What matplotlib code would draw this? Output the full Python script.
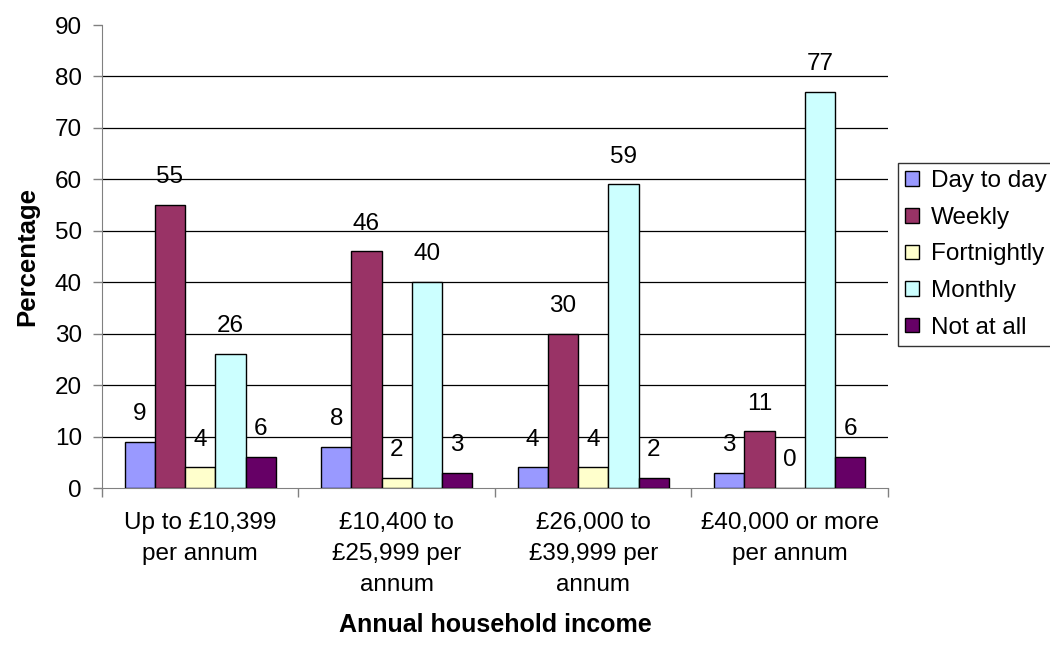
import numpy as np
import matplotlib
matplotlib.use("Agg")
import matplotlib.pyplot as plt

plt.rcParams["font.family"] = ["Liberation Sans", "DejaVu Sans"]

# -----------------------------
# DATA
# -----------------------------
categories = [
    "Up to £10,399\nper annum",
    "£10,400 to\n£25,999 per\nannum",
    "£26,000 to\n£39,999 per\nannum",
    "£40,000 or more\nper annum",
]
series_names = ["Day to day", "Weekly", "Fortnightly", "Monthly", "Not at all"]
day_to_day = [9, 8, 4, 3]
weekly = [55, 46, 30, 11]
fortnightly = [4, 2, 4, 0]
monthly = [26, 40, 59, 77]
not_at_all = [6, 3, 2, 6]
colors = ["#9999FF", "#993366", "#FFFFCC", "#CCFFFF", "#660066"]

series = [day_to_day, weekly, fortnightly, monthly, not_at_all]

# -----------------------------
# PLOT
# -----------------------------
fig = plt.figure(figsize=(10.5, 6.45), dpi=100)
ax = fig.add_axes([0.0971, 0.2434, 0.7486, 0.7178])

fs = 17.5
x = np.arange(len(categories))
width = 0.154
for i, (name, vals, col) in enumerate(zip(series_names, series, colors)):
    pos = x + (i - 2) * width
    bars = ax.bar(pos, vals, width, color=col, edgecolor="black",
                  linewidth=1.0, label=name, zorder=3)
    for b, v in zip(bars, vals):
        ax.annotate(str(v), (b.get_x() + b.get_width() / 2, v),
                    xytext=(0, 20), textcoords="offset points",
                    ha="center", va="center", fontsize=fs)

ax.set_xlim(-0.5, len(categories) - 0.5)
ax.set_ylim(0, 90)
ax.set_yticks(range(0, 91, 10))
for y in range(10, 90, 10):
    ax.axhline(y, color="black", linewidth=0.9, zorder=1)

# category boundary ticks on x axis
ax.set_xticks(np.arange(-0.5, len(categories), 1.0))
ax.set_xticklabels([])
ax.set_xticks(x, minor=True)
ax.set_xticklabels(categories, minor=True, fontsize=fs, linespacing=1.55)
ax.tick_params(axis="x", which="minor", length=0, pad=17)
ax.tick_params(axis="x", which="major", length=6.5, width=1, color="#808080")
ax.tick_params(axis="y", length=6.5, width=1, color="#808080", labelsize=fs, pad=8)

for s in ["top", "right"]:
    ax.spines[s].set_visible(False)
ax.spines["left"].set_color("#808080")
ax.spines["bottom"].set_color("#808080")

ax.set_ylabel("Percentage", fontsize=18.5, fontweight="bold", labelpad=11)
ax.set_xlabel("Annual household income", fontsize=18, fontweight="bold", labelpad=12)

leg = ax.legend(loc="upper left", bbox_to_anchor=(898 / 1050, 1 - 163 / 645),
                bbox_transform=fig.transFigure, fontsize=fs,
                frameon=True, fancybox=False, edgecolor="black",
                handlelength=0.55, handleheight=0.55, handletextpad=0.5,
                labelspacing=0.6, borderpad=0.3, borderaxespad=0)
leg.get_frame().set_linewidth(1.0)

plt.savefig("out.png", dpi=100)
plt.close()
